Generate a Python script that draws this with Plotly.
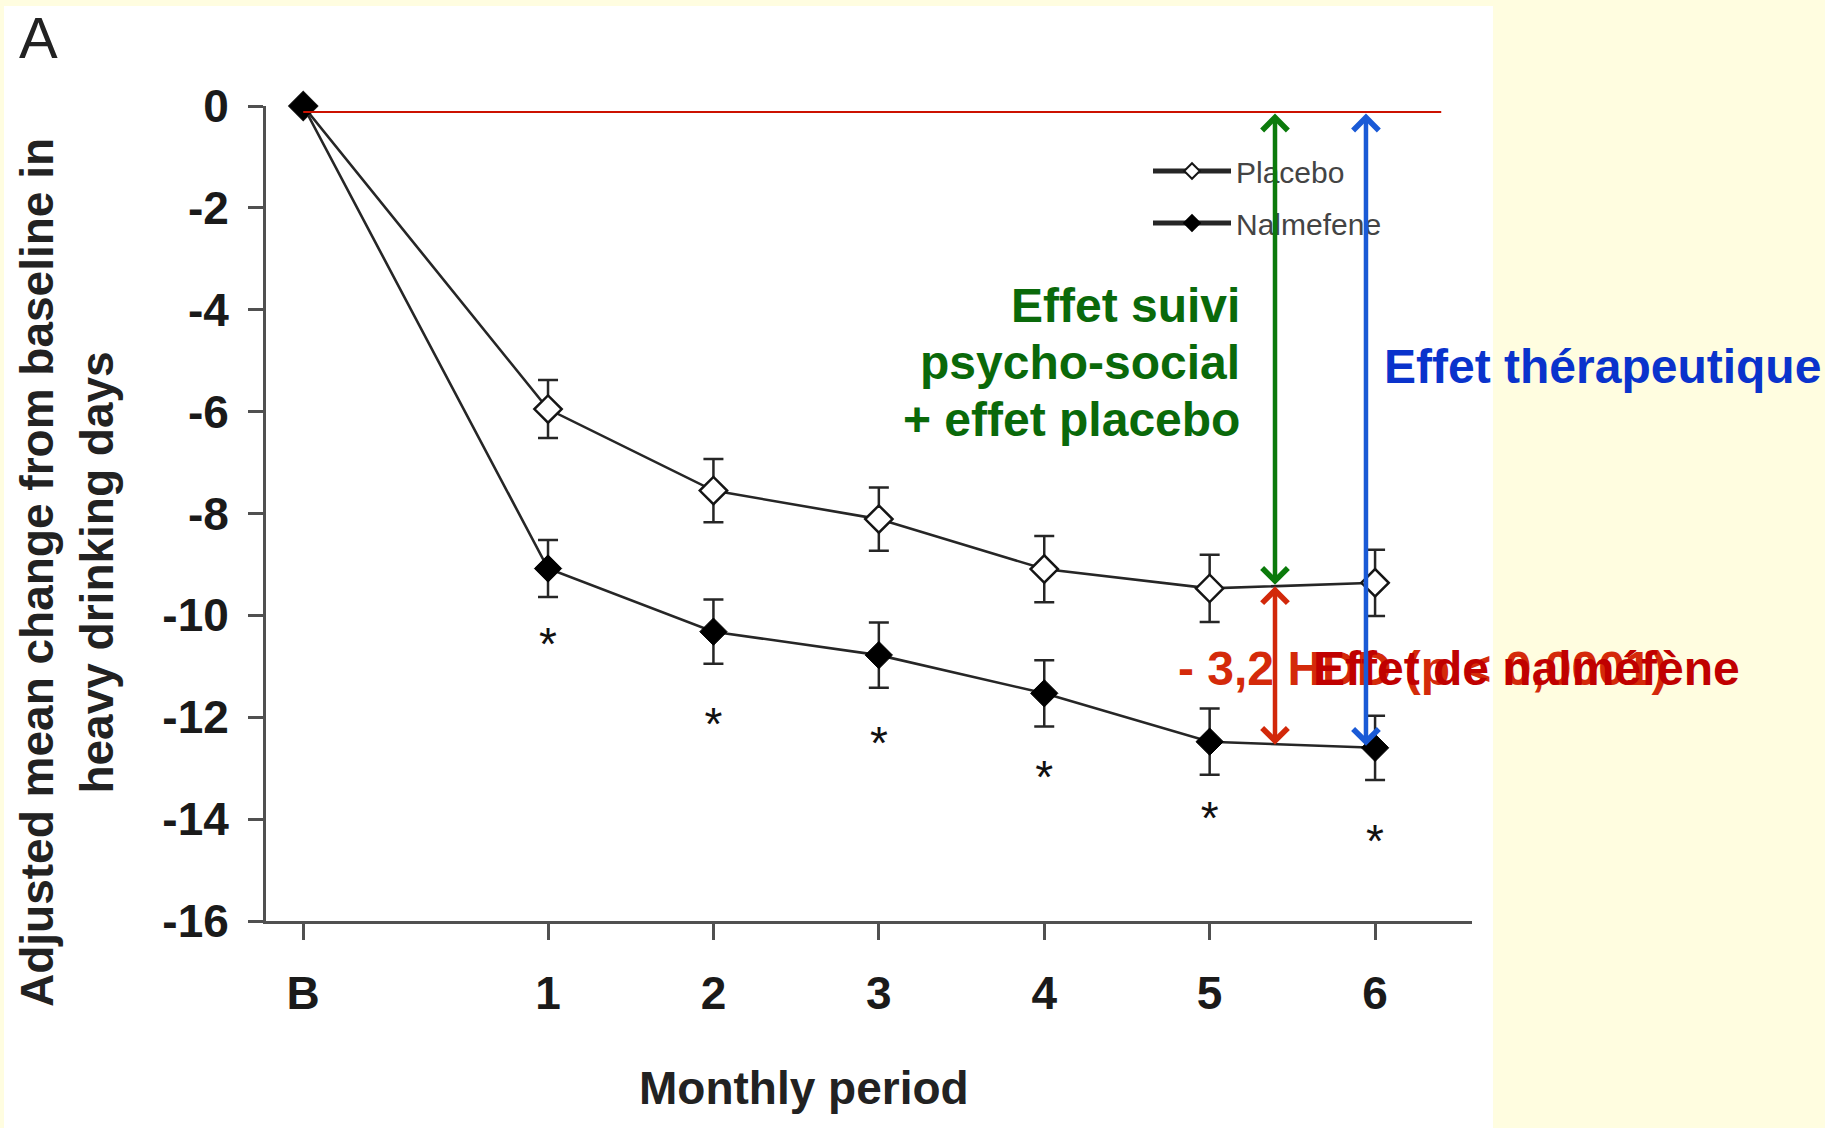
import plotly.graph_objects as go

# ---------------- data ----------------
period_labels = ["B", "1", "2", "3", "4", "5", "6"]
period_pos = [-0.48, 1, 2, 3, 4, 5, 6]

placebo = [0, -5.95, -7.55, -8.11, -9.09, -9.47, -9.36]
placebo_err = [0, 0.57, 0.62, 0.62, 0.65, 0.66, 0.65]

nalmefene = [0, -9.08, -10.32, -10.78, -11.53, -12.48, -12.60]
nalmefene_err = [0, 0.56, 0.63, 0.64, 0.65, 0.65, 0.63]

star_pos = [1, 2, 3, 4, 5, 6]
star_y = [-10.52, -12.09, -12.45, -13.13, -13.92, -14.38]

y_ticks = [0, -2, -4, -6, -8, -10, -12, -14, -16]

# reference line and arrows (data coordinates)
ref_line_x = [-0.48, 6.4]
ref_line_y = -0.12
arrow_green = dict(x=5.395, y0=-0.12, y1=-9.40)
arrow_red = dict(x=5.395, y0=-9.40, y1=-12.54)
arrow_blue = dict(x=5.945, y0=-0.12, y1=-12.56)

# ---------------- layout constants ----------------
W, H = 1825, 1128
L, R, T, B = 266, 353, 106, 207
PW, PH = W - L - R, H - T - B
Y_PX_PER_UNIT = PH / 16.0

def px(xp):
    return (xp - L) / PW

def py(yp):
    return (H - B - yp) / PH

FONT = "Liberation Sans, Arial, sans-serif"
AXIS = "#505050"
LINE = "#262626"

fig = go.Figure()

fig.add_trace(go.Scatter(
    x=period_pos, y=placebo, mode="lines+markers", name="Placebo",
    legendgroup="p",
    line=dict(color=LINE, width=2.6),
    marker=dict(symbol="diamond", size=21, color="white",
                line=dict(color="#151515", width=2.5)),
    error_y=dict(type="data", array=placebo_err, visible=True,
                 color=LINE, thickness=2.5, width=10),
    cliponaxis=False,
))
fig.add_trace(go.Scatter(
    x=period_pos, y=nalmefene, mode="lines+markers", name="Nalmefene",
    legendgroup="n",
    line=dict(color=LINE, width=2.6),
    marker=dict(symbol="diamond", size=21, color="#000000",
                line=dict(color="#000000", width=1)),
    error_y=dict(type="data", array=nalmefene_err, visible=True,
                 color=LINE, thickness=2.5, width=10),
    cliponaxis=False,
))

# significance asterisks (glyph sits high in its line box -> small pixel offset)
STAR_DROP_PX = 7
fig.add_trace(go.Scatter(
    x=star_pos, y=[v - STAR_DROP_PX / Y_PX_PER_UNIT for v in star_y],
    mode="text", text=["*"] * len(star_pos),
    textposition="middle center",
    textfont=dict(family=FONT, size=46, color="#111111"),
    showlegend=False, hoverinfo="skip", cliponaxis=False,
))

shapes = [
    dict(type="rect", xref="paper", yref="paper",
         x0=px(4), x1=px(1493), y0=py(H + 20), y1=py(6),
         fillcolor="white", line=dict(width=0), layer="below"),
    dict(type="line", xref="x", yref="y",
         x0=ref_line_x[0], x1=ref_line_x[1], y0=ref_line_y, y1=ref_line_y,
         line=dict(color="#cc1100", width=2), layer="above"),
]

annotations = []

def txt(x, y, text, size, color, xanchor="center", bold=True, textangle=0):
    annotations.append(dict(
        x=x, y=y, xref="paper", yref="paper",
        text=(f"<b>{text}</b>" if bold else text),
        showarrow=False, xanchor=xanchor, yanchor="middle", align="center",
        textangle=textangle,
        font=dict(family=FONT, size=size, color=color)))

txt(px(38), py(37), "A", 58, "#222222", bold=False)
txt(px(67), py(573), "Adjusted mean change from baseline in<br>heavy drinking days",
    46, "#222222", textangle=-90)
txt(px(804), py(1088), "Monthly period", 46, "#222222")

GREEN_T = "#0a690a"
txt(px(1242), py(305), "Effet suivi", 48, GREEN_T, xanchor="right")
txt(px(1242), py(362), "psycho-social", 48, GREEN_T, xanchor="right")
txt(px(1242), py(419), "+ effet placebo", 48, GREEN_T, xanchor="right")
txt(px(1382), py(366), "Effet thérapeutique", 48, "#0a33cc", xanchor="left")
txt(px(1176), py(668), "- 3,2 HDD (p &lt; 0,0001)", 48, "#d42a0a", xanchor="left")
txt(px(1311), py(668), "Effet de nalméfène", 48, "#c00000", xanchor="left")

def double_arrow(a, color):
    annotations.append(dict(
        x=a["x"], y=a["y1"], ax=a["x"], ay=a["y0"],
        xref="x", yref="y", axref="x", ayref="y",
        text="", showarrow=True, arrowside="end+start",
        arrowhead=4, startarrowhead=4, arrowsize=1.1, startarrowsize=1.1,
        arrowwidth=4.5, arrowcolor=color, standoff=0, startstandoff=0))

double_arrow(arrow_green, "#0b7a0b")
double_arrow(arrow_red, "#d2280a")
double_arrow(arrow_blue, "#1a5ad6")

fig.update_layout(
    width=W, height=H,
    margin=dict(l=L, r=R, t=T, b=B, pad=0),
    paper_bgcolor="#fffde0",
    plot_bgcolor="rgba(0,0,0,0)",
    shapes=shapes,
    annotations=annotations,
    showlegend=True,
    legend=dict(
        x=px(1148), y=py(145), xanchor="left", yanchor="top",
        bgcolor="rgba(0,0,0,0)", borderwidth=0,
        font=dict(family=FONT, size=30, color="#444444"),
        traceorder="grouped", tracegroupgap=10,
        itemwidth=78, itemsizing="constant",
    ),
    xaxis=dict(
        range=[-0.705, 6.586], tickmode="array",
        tickvals=period_pos, ticktext=period_labels,
        showline=True, linecolor=AXIS, linewidth=3,
        ticks="outside", ticklen=16, tickwidth=2.5, tickcolor=AXIS,
        showgrid=False, zeroline=False, ticklabelstandoff=14,
        tickfont=dict(family=FONT, size=46, color="#1a1a1a", weight="bold"),
    ),
    yaxis=dict(
        range=[-16, 0], tickmode="array", tickvals=y_ticks,
        ticktext=[str(v) for v in y_ticks],
        showline=True, linecolor=AXIS, linewidth=3,
        ticks="outside", ticklen=15, tickwidth=2.5, tickcolor=AXIS,
        showgrid=False, zeroline=False, ticklabelstandoff=10,
        tickfont=dict(family=FONT, size=46, color="#1a1a1a", weight="bold"),
    ),
)

fig.write_html("out.html")
